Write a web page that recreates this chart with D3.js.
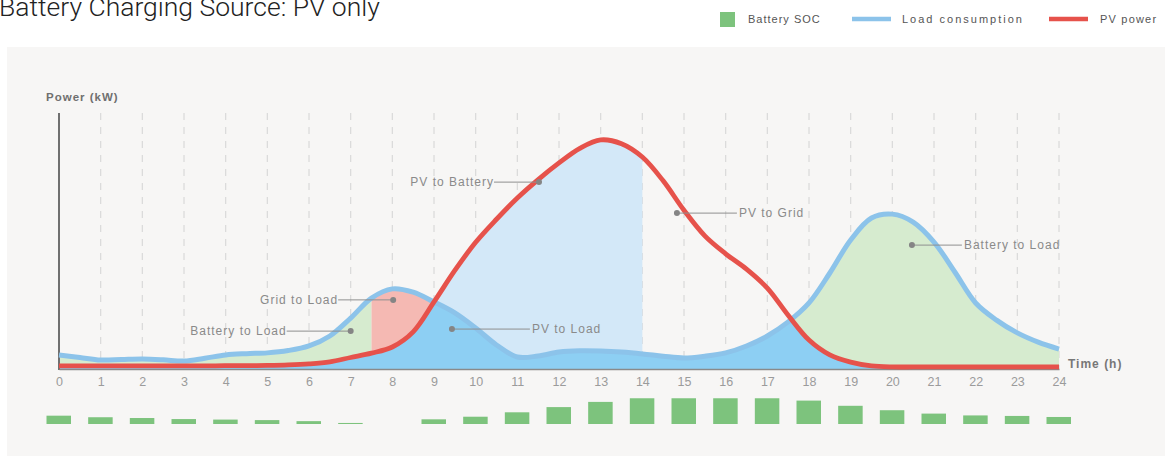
<!DOCTYPE html>
<html>
<head>
<meta charset="utf-8">
<script src="https://cdn.jsdelivr.net/npm/d3@7"></script>
<style>
  html, body { margin: 0; padding: 0; background: #fff; }
  svg { display: block; }
  text { font-family: "Liberation Sans", Arial, sans-serif; }
</style>
</head>
<body>
<svg id="chart" width="1165" height="459"></svg>
<script>
/* globals d3 */

// time points (h), half-hour steps
var times = [0, 0.5, 1, 1.5, 2, 2.5, 3, 3.5, 4, 4.5, 5, 5.5, 6, 6.5, 7, 7.5, 8, 8.5,
  9, 9.5, 10, 10.5, 11, 11.5, 12, 12.5, 13, 13.5, 14, 14.5, 15, 15.5, 16, 16.5,
  17, 17.5, 18, 18.5, 19, 19.5, 20, 20.5, 21, 21.5, 22, 22.5, 23, 23.5, 24];

// load consumption (kW)
var load = [0.55, 0.45, 0.35, 0.37, 0.39, 0.36, 0.31, 0.42, 0.55, 0.6, 0.63, 0.72,
  0.9, 1.29, 1.99, 2.77, 3.13, 3.0, 2.62, 2.19, 1.6, 0.94, 0.47, 0.51, 0.66, 0.71,
  0.7, 0.66, 0.59, 0.5, 0.43, 0.5, 0.63, 0.9, 1.29, 1.84, 2.58, 3.75, 5.04, 5.9,
  6.05, 5.74, 4.96, 3.79, 2.58, 1.91, 1.41, 1.05, 0.78];

// PV power (kW)
var pv = [0.12, 0.12, 0.12, 0.12, 0.12, 0.12, 0.12, 0.12, 0.13, 0.13, 0.14, 0.16,
  0.2, 0.28, 0.45, 0.62, 0.86, 1.45, 2.62, 3.85, 4.95, 5.85, 6.68, 7.4, 8.05, 8.62,
  8.95, 8.8, 8.28, 7.35, 6.2, 5.2, 4.5, 3.9, 3.16, 2.1, 1.13, 0.55, 0.27, 0.12,
  0.08, 0.08, 0.08, 0.08, 0.08, 0.08, 0.08, 0.08, 0.08];

// battery SOC (%) at each hour
var socHours = d3.range(0, 25);
var soc = [32, 26, 23, 19, 17, 15, 11, 4, 0, 18, 28, 45, 65, 85, 99, 99, 99, 99,
  90, 70, 53, 40, 33, 31, 27];

var tickLabels = ['0', '1', '2', '3', '4', '5', '6', '7', '8', '9', '10', '11', '12',
  '13', '14', '15', '16', '17', '18', '19', '20', '21', '22', '23', '24'];

// annotations: [label, time, kW, side, leader length]
var notes = [
  ['Battery to Load', 7.0, 1.48, 'left', 64],
  ['Grid to Load', 8.02, 2.7, 'left', 55],
  ['PV to Battery', 11.52, 7.3, 'left', 45],
  ['PV to Load', 9.43, 1.56, 'right', 78],
  ['PV to Grid', 14.83, 6.09, 'right', 60],
  ['Battery to Load', 20.47, 4.84, 'right', 50]
];

var legendItems = ['Battery SOC', 'Load consumption', 'PV power'];

var C = {
  green: '#d6ebcf',
  pink: '#f5b9b3',
  sky: '#d3e8f8',
  blue: '#8dcff3',
  loadLine: '#8cc3ea',
  pvLine: '#e6524b',
  bar: '#7dc37d'
};

var svg = d3.select('#chart');

var x = d3.scaleLinear().domain([0, 24]).range([59, 1059]);
var y = d3.scaleLinear().domain([0, 10]).range([369, 113]);
var socY = d3.scaleLinear().domain([0, 100]).range([424, 398]);

var rows = times.map(function (t, i) {
  return { t: t, load: load[i], pv: pv[i] };
});

// panel background
svg.append('rect')
  .attr('x', 7).attr('y', 47)
  .attr('width', 1158).attr('height', 409)
  .attr('fill', '#f7f6f5');

// title
svg.append('text')
  .attr('x', -1).attr('y', 16)
  .style('font-family', 'Roboto, sans-serif')
  .style('font-weight', 300)
  .attr('font-size', 26.5)
  .attr('fill', '#222')
  .text('Battery Charging Source: PV only');

// dashed grid
svg.append('g').selectAll('line')
  .data(d3.range(1, 25))
  .enter().append('line')
  .attr('x1', x).attr('x2', x)
  .attr('y1', 113).attr('y2', 369)
  .attr('stroke', '#d9d9d9')
  .attr('stroke-width', 1.2)
  .attr('stroke-dasharray', '7,7');

// clip helpers
var defs = svg.append('defs');

function clipRange(id, ranges) {
  var cp = defs.append('clipPath').attr('id', id);
  ranges.forEach(function (r) {
    cp.append('rect')
      .attr('x', x(r[0])).attr('y', 0)
      .attr('width', x(r[1]) - x(r[0])).attr('height', 459);
  });
}

clipRange('clip-green', [[0, 7.5], [14, 24]]);
clipRange('clip-mid', [[7.5, 14]]);

var curve = d3.curveCatmullRom.alpha(0.5);

var loadArea = d3.area().curve(curve)
  .x(function (d) { return x(d.t); })
  .y0(y(0))
  .y1(function (d) { return y(d.load); });

var pvArea = d3.area().curve(curve)
  .x(function (d) { return x(d.t); })
  .y0(y(0))
  .y1(function (d) { return y(d.pv); });

defs.append('clipPath').attr('id', 'clip-load')
  .append('path').attr('d', loadArea(rows));

// fills
svg.append('path').attr('d', loadArea(rows))
  .attr('fill', C.green).attr('clip-path', 'url(#clip-green)');
svg.append('path').attr('d', loadArea(rows))
  .attr('fill', C.pink).attr('clip-path', 'url(#clip-mid)');
svg.append('path').attr('d', pvArea(rows))
  .attr('fill', C.sky).attr('clip-path', 'url(#clip-mid)');
svg.append('path').attr('d', pvArea(rows))
  .attr('fill', C.blue).attr('clip-path', 'url(#clip-load)');

// axes
svg.append('line')
  .attr('x1', 59).attr('x2', 59)
  .attr('y1', 113).attr('y2', 370)
  .attr('stroke', '#707070').attr('stroke-width', 2);

var xAxis = d3.axisBottom(x)
  .tickValues(socHours)
  .tickFormat(function (d, i) { return tickLabels[i]; })
  .tickSize(0).tickPadding(8);

var gx = svg.append('g')
  .attr('transform', 'translate(0,369)')
  .call(xAxis);
gx.select('.domain').attr('stroke', '#8a8a8a').attr('stroke-width', 1.5);
gx.selectAll('text')
  .attr('font-size', 12.5)
  .attr('fill', '#9b9b9b')
  .style('font-family', '"Liberation Sans", Arial, sans-serif');

// lines
var loadLine = d3.line().curve(curve)
  .x(function (d) { return x(d.t); })
  .y(function (d) { return y(d.load); });
var pvLine = d3.line().curve(curve)
  .x(function (d) { return x(d.t); })
  .y(function (d) { return y(d.pv); });

svg.append('path').attr('d', loadLine(rows))
  .attr('fill', 'none').attr('stroke', C.loadLine)
  .attr('stroke-width', 5);
svg.append('path').attr('d', pvLine(rows))
  .attr('fill', 'none').attr('stroke', C.pvLine)
  .attr('stroke-width', 4.8);

// axis titles
svg.append('text')
  .attr('x', 46).attr('y', 101)
  .attr('font-size', 11.5).attr('font-weight', 'bold')
  .attr('letter-spacing', 1)
  .attr('fill', '#6f6f6f')
  .text('Power (kW)');
svg.append('text')
  .attr('x', 1068).attr('y', 368)
  .attr('font-size', 12).attr('font-weight', 'bold')
  .attr('letter-spacing', 1)
  .attr('fill', '#777')
  .text('Time (h)');

// annotations
var gn = svg.append('g').selectAll('g')
  .data(notes)
  .enter().append('g')
  .attr('transform', function (d) {
    return 'translate(' + x(d[1]) + ',' + y(d[2]) + ')';
  });

gn.append('line')
  .attr('x1', 0)
  .attr('x2', function (d) { return d[3] === 'left' ? -d[4] : d[4]; })
  .attr('stroke', '#8f8f8f').attr('stroke-width', 1);
gn.append('circle').attr('r', 3).attr('fill', '#858585');
gn.append('text')
  .attr('x', function (d) { return d[3] === 'left' ? -d[4] : d[4] + 2; })
  .attr('y', 4)
  .attr('text-anchor', function (d) { return d[3] === 'left' ? 'end' : 'start'; })
  .attr('font-size', 12)
  .attr('letter-spacing', 1)
  .attr('fill', '#8a8a8a')
  .text(function (d) { return d[0]; });

// battery SOC bars
svg.append('g').selectAll('rect')
  .data(soc)
  .enter().append('rect')
  .attr('x', function (d, i) { return x(socHours[i]) - 12.5; })
  .attr('width', 24.5)
  .attr('y', function (d) { return socY(d); })
  .attr('height', function (d) { return socY(0) - socY(d); })
  .attr('fill', C.bar);

// legend
var lg = svg.append('g');
lg.append('rect')
  .attr('x', 720).attr('y', 12)
  .attr('width', 15).attr('height', 15)
  .attr('fill', C.bar);
lg.append('line')
  .attr('x1', 852).attr('x2', 891).attr('y1', 19).attr('y2', 19)
  .attr('stroke', C.loadLine).attr('stroke-width', 4.5);
lg.append('line')
  .attr('x1', 1049).attr('x2', 1088).attr('y1', 19).attr('y2', 19)
  .attr('stroke', C.pvLine).attr('stroke-width', 4.5);

var legendX = [748, 902, 1100];
var legendSpacing = [1, 2, 1.2];
lg.selectAll('text')
  .data(legendItems)
  .enter().append('text')
  .attr('x', function (d, i) { return legendX[i]; })
  .attr('y', 23)
  .attr('font-size', 11)
  .attr('letter-spacing', function (d, i) { return legendSpacing[i]; })
  .attr('fill', '#555')
  .text(function (d) { return d; });
</script>
</body>
</html>
